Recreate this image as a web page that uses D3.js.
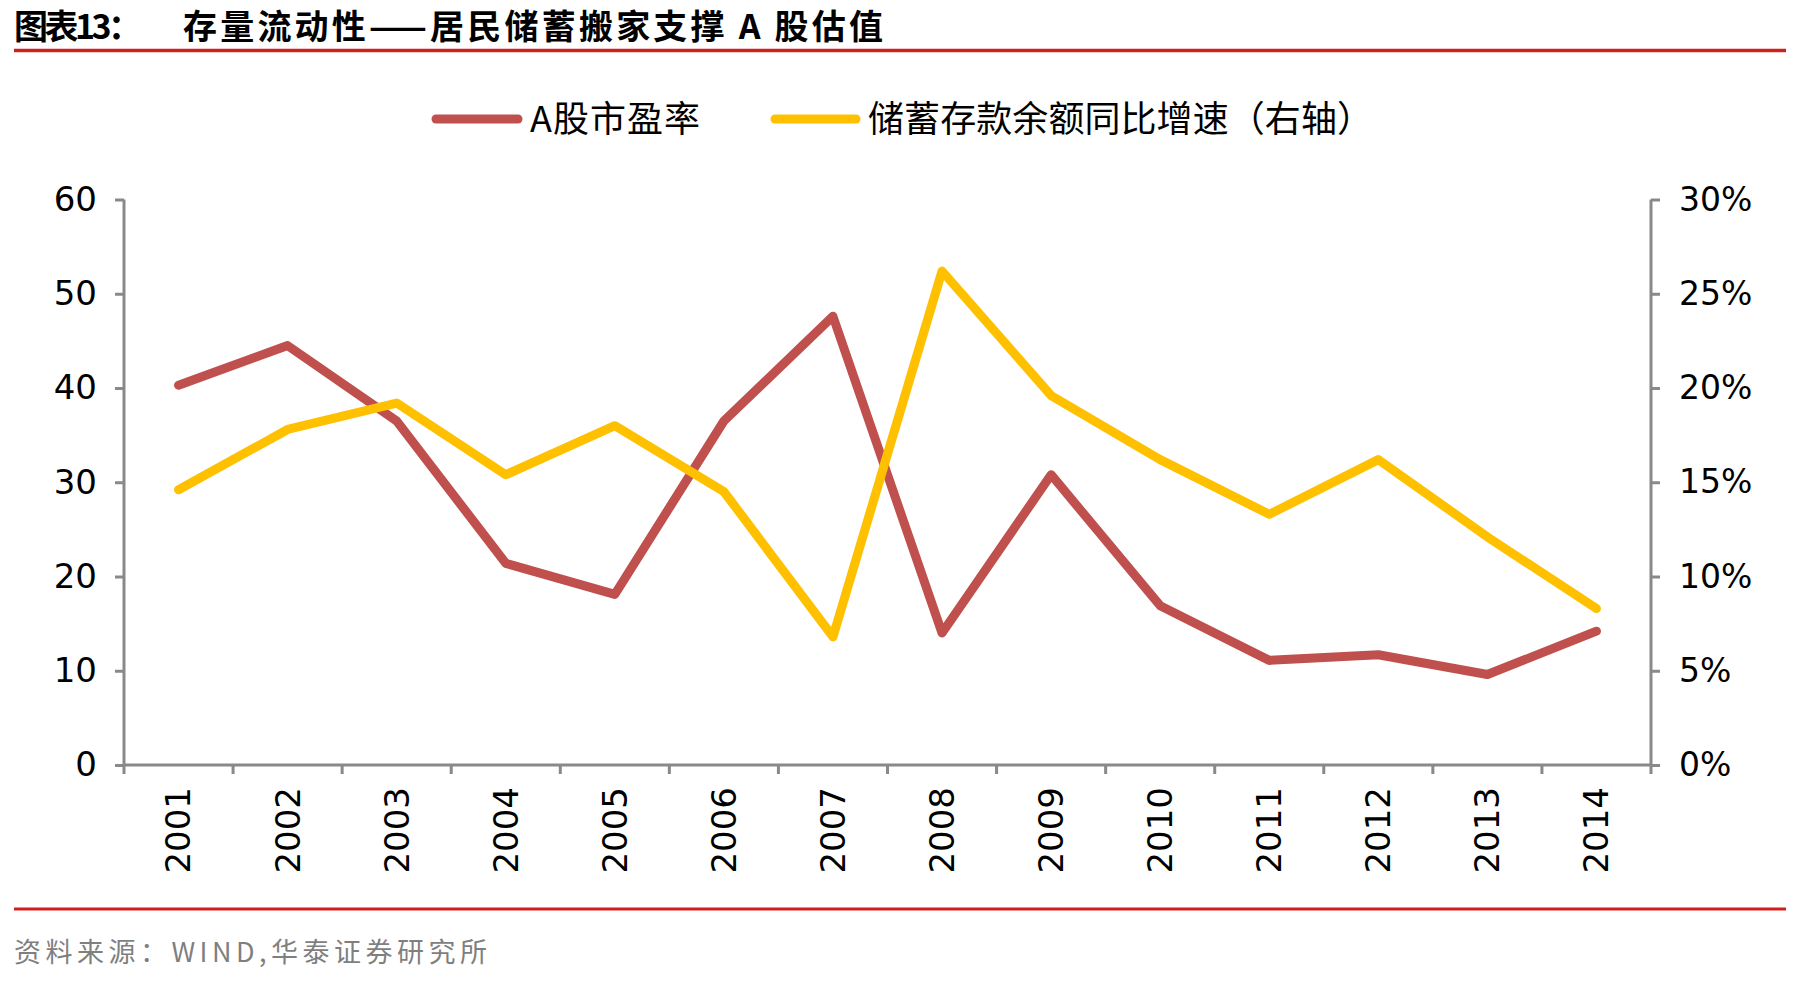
<!DOCTYPE html>
<html><head><meta charset="utf-8">
<script src="https://cdn.jsdelivr.net/npm/d3@7"></script>
<style>body{margin:0;background:#fff;} svg{display:block;}</style>
</head><body>
<script>
const years = ["2001","2002","2003","2004","2005","2006","2007","2008","2009","2010","2011","2012","2013","2014"];
const peValues = [40.3,44.5,36.5,21.4,18.1,36.5,47.6,14.0,30.8,16.9,11.1,11.7,9.6,14.2];
const depositGrowth = [14.6,17.8,19.2,15.4,18.0,14.5,6.8,26.2,19.6,16.2,13.3,16.2,12.1,8.3];
const leftTicks = [0,10,20,30,40,50,60];
const rightTicks = [0,5,10,15,20,25,30];
const seriesNames = ["A股市盈率","储蓄存款余额同比增速（右轴）"];
const titleLead = "图表13：";
const titleText = "存量流动性——居民储蓄搬家支撑 A 股估值";
const sourceText = "资料来源：WIND,华泰证券研究所";

const W = 1798, H = 981;
const svg = d3.select("body").append("svg").attr("width", W).attr("height", H);
const m = {left:124, right:1651, top:199.5, bottom:765};
const cjk = "'Noto Sans CJK SC','Noto Sans',sans-serif";
const num = "'DejaVu Sans',Verdana,sans-serif";
const red = "#C0504D", yellow = "#FFC000", axisC = "#898989", rule = "#D0201C";

// title
svg.append("text").attr("x",14).attr("y",39).attr("font-family",cjk).attr("font-weight","bold")
  .attr("font-size",34).attr("fill","#000").attr("textLength",128).attr("lengthAdjust","spacing").text(titleLead);
svg.append("text").attr("x",183).attr("y",39).attr("font-family",cjk).attr("font-weight","bold")
  .attr("font-size",34).attr("fill","#000").attr("textLength",700).attr("lengthAdjust","spacing").text(titleText);
svg.append("line").attr("x1",14).attr("x2",1786).attr("y1",50.5).attr("y2",50.5).attr("stroke",rule).attr("stroke-width",3.5);

// scales
const x = d3.scaleBand().domain(years).range([m.left, m.right]).padding(0);
const yL = d3.scaleLinear().domain([0,60]).range([m.bottom, m.top]);
const yR = d3.scaleLinear().domain([0,30]).range([m.bottom, m.top]);

// axes
const gL = svg.append("g").attr("transform",`translate(${m.left},0)`)
  .call(d3.axisLeft(yL).tickValues(leftTicks).tickSize(9).tickPadding(18).tickFormat(d3.format("d")));
const gR = svg.append("g").attr("transform",`translate(${m.right},0)`)
  .call(d3.axisRight(yR).tickValues(rightTicks).tickSize(9).tickPadding(19).tickFormat(d=>d+"%"));
const gX = svg.append("g").attr("transform",`translate(0,${m.bottom})`)
  .call(d3.axisBottom(x).tickSize(0).tickPadding(0));
const edges = years.map(d=>x(d)).concat([m.right]);
gX.selectAll(".edge").data(edges).enter().append("line").attr("class","edge")
  .attr("x1",d=>d).attr("x2",d=>d).attr("y1",0).attr("y2",9).attr("stroke",axisC).attr("stroke-width",3);
gX.selectAll(".tick text").attr("transform","rotate(-90)").attr("text-anchor","end")
  .attr("x",-22).attr("y",0).attr("dy","0.35em");

[gL,gR,gX].forEach(g=>{
  g.selectAll("path.domain").attr("stroke",axisC).attr("stroke-width",3);
  g.selectAll(".tick line").attr("stroke",axisC).attr("stroke-width",3);
  g.selectAll("text").attr("font-family",num).attr("font-size",34).attr("fill","#000");
});
gR.selectAll("text").attr("font-size",33);
gL.select("path.domain").attr("d",`M0,${m.top}V${m.bottom}`);
gR.select("path.domain").attr("d",`M0,${m.top}V${m.bottom}`);
gX.select("path.domain").attr("d",`M${m.left},0H${m.right}`);

// lines
const cx = d => x(d) + x.bandwidth()/2;
const lineL = d3.line().x((d,i)=>cx(years[i])).y(d=>yL(d));
const lineR = d3.line().x((d,i)=>cx(years[i])).y(d=>yR(d));
svg.append("path").datum(peValues).attr("d",lineL).attr("fill","none").attr("stroke",red)
  .attr("stroke-width",9).attr("stroke-linejoin","round").attr("stroke-linecap","round");
svg.append("path").datum(depositGrowth).attr("d",lineR).attr("fill","none").attr("stroke",yellow)
  .attr("stroke-width",9).attr("stroke-linejoin","round").attr("stroke-linecap","round");

// legend
const legend = [{c:red,x1:432,x2:522,tx:530,tl:170,name:seriesNames[0]},{c:yellow,x1:771,x2:860,tx:868,tl:505,name:seriesNames[1]}];
legend.forEach(l=>{
  svg.append("line").attr("x1",l.x1+4).attr("x2",l.x2-4).attr("y1",119).attr("y2",119)
    .attr("stroke",l.c).attr("stroke-width",9).attr("stroke-linecap","round");
  svg.append("text").attr("x",l.tx).attr("y",119).attr("dy","0.36em").attr("font-family",cjk)
    .attr("font-size",36).attr("fill","#000").attr("textLength",l.tl).attr("lengthAdjust","spacing").text(l.name);
});

// footer
svg.append("line").attr("x1",14).attr("x2",1786).attr("y1",909).attr("y2",909).attr("stroke",rule).attr("stroke-width",3);
svg.append("text").attr("x",14).attr("y",952).attr("dy","0.36em").attr("font-family",cjk)
  .attr("font-size",27).attr("fill","#7f7f7f").attr("textLength",473).attr("lengthAdjust","spacing").text(sourceText);
</script>
</body></html>
